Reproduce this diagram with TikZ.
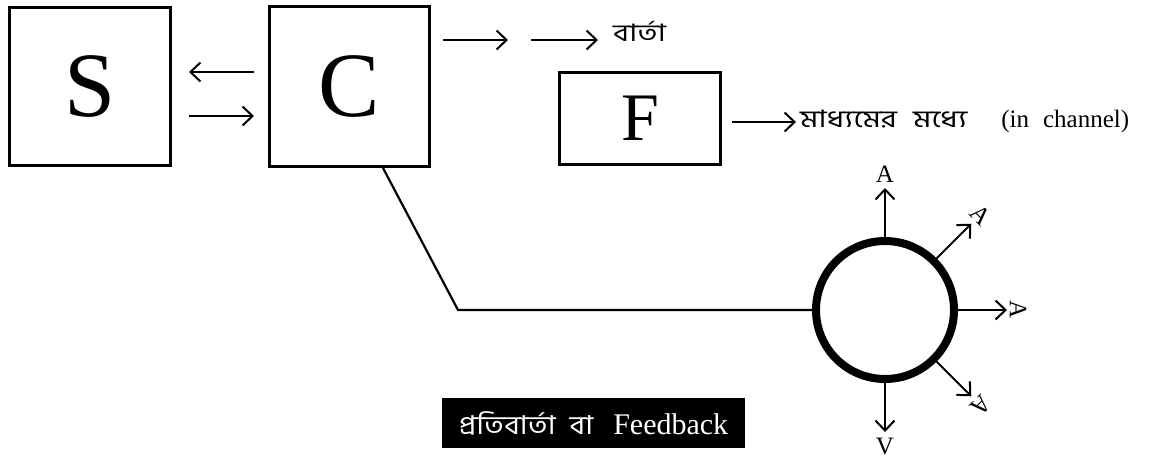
\documentclass[tikz,border=0pt]{standalone}
\usepackage{fontspec}
\setmainfont{Liberation Serif}
\newfontfamily\bn[Script=Bengali,FakeStretch=1.28]{Hind Siliguri}
\newfontfamily\bnb[Script=Bengali,FakeStretch=1.15]{Hind Siliguri}
\usetikzlibrary{arrows.meta,calc}
\begin{document}
\begin{tikzpicture}[x=1pt,y=-1pt,
  box/.style={draw, line width=3pt, inner sep=0pt, font=\fontsize{92}{92}\selectfont},
  arr/.style={line width=2pt, -{Straight Barb[length=10pt,width=19pt]}},
  lbl/.style={inner sep=0pt, font=\fontsize{25}{25}\selectfont},
  bnlbl/.style={inner sep=0pt, font=\fontsize{24}{24}\selectfont\bn}]
\useasboundingbox (0,0) rectangle (1158,459);
\fill[white] (0,0) rectangle (1158,459);
% boxes
\node[box, minimum width=161pt, minimum height=158pt] (S) at (90,86.5) {S};
\node[box, minimum width=160pt, minimum height=160pt] (C) at (349.5,86.5) {C};
\node[box, minimum width=161pt, minimum height=92pt, font=\fontsize{68}{68}\selectfont] (F) at (640,118.5) {F};
% S <-> C
\draw[arr] ([xshift=-14pt,yshift=14.5pt]C.west) -- ([xshift=17pt,yshift=14.5pt]S.east);
\draw[arr] ([xshift=17pt,yshift=-29.5pt]S.east) -- ([xshift=-14pt,yshift=-29.5pt]C.west);
% top arrows
\node[bnlbl, anchor=west] (barta) at (613,31) {বার্তা};
\coordinate (t1) at (508,40);
\coordinate (t2) at (531,40);
\draw[arr] ([xshift=12pt,yshift=46.5pt]C.east) -- (t1);
\draw[arr, shorten >=15pt] (t2) -- (barta.west |- t2);
% F arrow
\node[bnlbl, anchor=west] (ch) at (800,121) {মাধ্যমের\hspace{16pt}মধ্যে\hspace{34pt}{\fontsize{25}{25}\selectfont\rmfamily(in\hspace{14pt}channel)}};
\draw[arr, shorten >=4pt] ([xshift=10pt,yshift=-3.5pt]F.east) -- (ch.west |- 0,122);
% circle and channel line
\node[circle, draw, line width=8pt, minimum size=138pt, inner sep=0pt] (O) at (885,310) {};
\coordinate (bend) at (458,310);
\draw[line width=2.2pt] ([xshift=33.5pt]C.south) -- (bend) -- (O.west);
% radial arrows
\foreach \a in {90,45,0,-45,-90}{
  \draw[arr] (O.\a) -- ([shift={(\a:49pt)}]O.\a);
}
\node[lbl, rotate=0] (L1) at ([shift={(90:63pt)}]O.90) {A};
\node[lbl, rotate=-45] (L2) at ([shift={(45:62pt)}]O.45) {A};
\node[lbl, rotate=-90] (L3) at ([shift={(0:60pt)}]O.0) {A};
\node[lbl, rotate=-135] (L4) at ([shift={(-45:62pt)}]O.-45) {A};
\node[lbl] (L5) at ([shift={(-90:63pt)}]O.-90) {V};
% feedback box
\node[fill=black, text=white, minimum width=303pt, minimum height=50pt, inner sep=0pt,
      font=\fontsize{30}{30}\selectfont] (fb) at (593.5,423)
  {{\bnb\fontsize{26}{26}\selectfont প্রতিবার্তা\hspace{14pt}বা}\hspace{20pt}Feedback};
\end{tikzpicture}
\end{document}
